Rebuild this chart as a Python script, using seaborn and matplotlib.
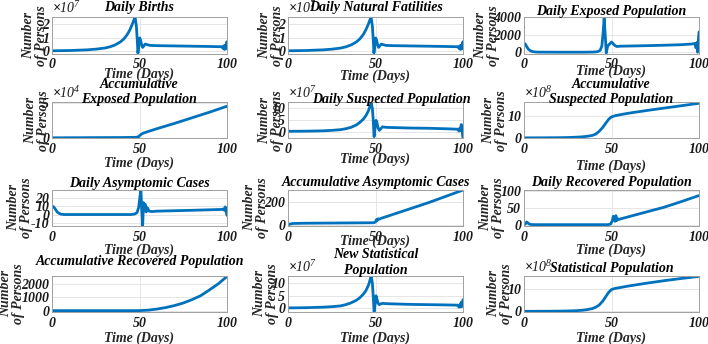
import numpy as np
import pandas as pd
import matplotlib
matplotlib.use("Agg")
import matplotlib.pyplot as plt
import seaborn as sns
from matplotlib.ticker import FuncFormatter, FixedLocator

# ---------------- data ----------------
# Daily Births (x1e7)
t_births = [0, 10, 20, 25, 30, 33, 36, 39, 41, 43, 44.5, 46, 47, 47.5, 48.2, 48.7, 49.1, 49.6, 50.1, 50.6,
            51.2, 51.8, 52.5, 53.3, 54.5, 56, 60, 70, 80, 90, 97, 97.8, 98.2, 98.6, 99, 99.4, 99.7, 100]
v_births = [0.05, 0.07, 0.12, 0.17, 0.25, 0.34, 0.48, 0.7, 0.92, 1.25, 1.6, 2.05, 2.4, 2.5, 1.9, 0.9, -0.12, 0.4,
            1.0, 0.85, 0.5, 0.3, 0.42, 0.55, 0.5, 0.45, 0.43, 0.41, 0.39, 0.37, 0.35, 0.22, 0.42, 0.15, 0.45, 0.2, 0.65, 0.72]
# Daily Natural Fatilities (x1e7)
t_fatal = list(t_births)
v_fatal = [0.05, 0.07, 0.12, 0.17, 0.25, 0.34, 0.48, 0.7, 0.92, 1.25, 1.6, 2.05, 2.4, 2.5, 1.9, 0.9, -0.12, 0.4,
           1.0, 0.85, 0.5, 0.3, 0.42, 0.55, 0.5, 0.45, 0.43, 0.41, 0.39, 0.37, 0.35, 0.22, 0.42, 0.15, 0.45, 0.2, 0.65, 0.72]
# Daily Exposed Population
t_exp = [0, 0.7, 1.5, 2.5, 3.5, 5, 7, 9, 20, 35, 40, 42, 43.5, 44.5, 45.2, 45.8, 46.4, 47, 47.8, 48.8, 50, 51,
         52, 53, 55, 60, 70, 80, 90, 96, 97.5, 98.3, 98.8, 99.2, 99.6, 100]
v_exp = [1000, 950, 650, 350, 180, 60, 15, 5, 0, 0, 20, 60, 200, 700, 2200, 3850, 2000, -100, 700, 900, 1150, 950,
         750, 650, 680, 700, 740, 790, 850, 930, 1000, 500, 1100, 0, 1300, 2300]
# Accumulative Exposed Population (x1e4)
t_acc_exp = [0, 10, 20, 30, 40, 48, 49.5, 50, 50.5, 51, 52, 55, 60, 70, 80, 90, 100]
v_acc_exp = [0.05, 0.06, 0.07, 0.08, 0.09, 0.12, 0.2, 0.35, 0.45, 0.55, 0.7, 0.95, 1.35, 2.1, 2.9, 3.7, 4.55]
# Daily Suspected Population (x1e7)
t_susp = [0, 10, 20, 25, 30, 33, 36, 39, 41, 43, 44.5, 46, 47, 47.5, 48.2, 48.7, 49.2, 49.7, 50.3, 50.9, 51.5,
          52.2, 53, 54, 56, 60, 70, 80, 90, 97, 97.8, 98.2, 98.6, 99, 99.4, 99.7, 100]
v_susp = [0.1, 0.15, 0.3, 0.5, 0.8, 1.2, 1.8, 2.8, 3.9, 5.3, 6.8, 9.0, 11.2, 12.5, 10, 5, -2.2, 1.5, 4.8, 3.5, 1.5,
          0.5, 1.2, 2.0, 1.8, 1.7, 1.5, 1.4, 1.2, 1.0, 0.2, 1.5, 0.5, 3.0, 1.0, -1, -3]
# Accumulative Suspected Population (x1e8)
t_acc_susp = [0, 10, 20, 25, 30, 33, 36, 39, 41, 43, 45, 47, 48.5, 50, 52, 55, 60, 70, 80, 90, 100]
v_acc_susp = [0, 0.02, 0.08, 0.15, 0.3, 0.45, 0.7, 1.1, 1.7, 3.0, 4.8, 7.0, 8.6, 9.6, 10.1, 10.6, 11.3, 12.5, 13.6, 14.7, 15.8]
# Daily Asymptomic Cases
t_asym = [0, 1, 2, 3, 4, 5, 7, 10, 45, 47, 48.5, 49.5, 50.2, 50.8, 51.3, 51.8, 52.3, 52.8, 53.3, 53.8, 54.5, 55.5,
          57, 60, 80, 97, 98, 98.5, 99, 99.5, 100]
v_asym = [10, 9, 6, 3, 1.5, 0.5, 0, 0, 0, 0.5, 2, 8, 20, 30, 5, -13, 14, 10, 12, 3, 8, 4, 3.5, 4, 5, 6, 6.5, 5, 9, 4, -1]
# Accumulative Asymptomic Cases
t_acc_asym = [0, 1, 2, 3, 10, 30, 49, 50, 50.5, 51, 51.5, 52, 53, 60, 70, 80, 90, 100]
v_acc_asym = [0, 5, 10, 12, 14, 16, 18, 25, 45, 38, 52, 48, 55, 90, 140, 190, 245, 300]
# Daily Recovered Population
t_rec = [0, 1, 1.5, 2, 2.5, 3, 4, 6, 48, 49.5, 50.5, 51, 51.5, 52, 52.5, 53, 53.5, 54, 55, 60, 70, 80, 90, 100]
v_rec = [0, 3, 8, 6, 4, 2, 0.5, 0, 0, 2, 12, 25, 20, 10, 27, 12, 18, 15, 17, 24, 38, 52, 69, 87]
# Accumulative Recovered Population
t_acc_rec = [0, 10, 20, 30, 40, 50, 55, 60, 65, 70, 75, 80, 85, 90, 95, 100]
v_acc_rec = [0, 0, 0, 0, 0, 5, 40, 120, 230, 380, 570, 820, 1120, 1550, 2000, 2550]
# New Statistical Population (x1e7)
t_new_stat = [0, 10, 20, 25, 30, 33, 36, 39, 41, 43, 44.5, 46, 47, 47.5, 48.2, 48.7, 49.2, 49.7, 50.3, 50.9, 51.5,
              52.2, 53, 54, 56, 60, 70, 80, 90, 97, 97.8, 98.2, 98.6, 99, 99.4, 99.7, 100]
v_new_stat = [0.2, 0.3, 0.5, 0.7, 1.0, 1.5, 2.2, 3.2, 4.2, 5.6, 7.0, 9.2, 11.5, 12.8, 10, 5, -1.3, 1.5, 5.0, 3.5, 2.0,
              1.5, 1.8, 2.0, 1.9, 1.8, 1.6, 1.5, 1.4, 1.3, 0.5, 1.5, 0.6, 2.5, 1.0, 0.8, 3.5]
# Statistical Population (x1e8)
t_stat = [0, 10, 20, 25, 30, 33, 36, 39, 41, 43, 45, 47, 48.5, 50, 52, 55, 60, 70, 80, 90, 100]
v_stat = [0, 0.02, 0.08, 0.15, 0.3, 0.45, 0.75, 1.2, 1.8, 2.8, 4.5, 6.8, 8.5, 9.6, 10.1, 10.5, 11.2, 12.4, 13.5, 14.5, 15.4]

titles = ["Daily Births", "Daily Natural Fatilities", "Daily Exposed Population",
          "Accumulative\nExposed Population", "Daily Suspected Population", "Accumulative\nSuspected Population",
          "Daily Asymptomic Cases", "Accumulative Asymptomic Cases", "Daily Recovered Population",
          "Accumulative Recovered Population", "New Statistical\nPopulation", "Statistical Population"]
x_label = "Time (Days)"
y_label = "Number\nof Persons"
x_ticks = [0, 50, 100]

# series: (t, values, exponent of the axis multiplier)
series = [
    (t_births, v_births, 7), (t_fatal, v_fatal, 7), (t_exp, v_exp, 0),
    (t_acc_exp, v_acc_exp, 4), (t_susp, v_susp, 7), (t_acc_susp, v_acc_susp, 8),
    (t_asym, v_asym, 0), (t_acc_asym, v_acc_asym, 0), (t_rec, v_rec, 0),
    (t_acc_rec, v_acc_rec, 0), (t_new_stat, v_new_stat, 7), (t_stat, v_stat, 8),
]
y_ticks = [[0, 1, 2], [0, 1, 2], [0, 2000, 4000], [0, 5], [0, 5, 10], [0, 10],
           [-10, 0, 10, 20], [0, 200], [0, 50, 100], [0, 1000, 2000], [0, 5, 10], [0, 10]]

# ---------------- layout (pixels) ----------------
W, H = 708, 344
col_left = [52, 288, 524]
row_top = [17, 102, 189.5, 275.5]
ax_w, ax_h = 175, 36.5
y_lims = [(-0.15, 2.55), (-0.15, 2.55), (-150, 4000), (-0.05, 5.15), (-3.0, 12.7), (-0.3, 16.4),
          (-13.5, 29.5), (-10, 305), (-4, 105), (-100, 2620), (-1.4, 13.0), (-0.3, 15.8)]
title_bottom_px = [3.5, 3.5, -1.5, -4.5, -4.5, -4.5, -0.5, 0.5, 0.5, 7.5, -1.5, 0.5]
title_dx_px = [0, 0, 0, 0, 16, 0, 0, 0, 0, 0, 0, 0]
ylab_base_px = [-7, -7, -27, -5, -7, -19, -22, -22, -22, -30, -12, -14]
xlab_top_px = [15, 17, 12, 19, 15, 22, 19, 10, 19, 21, 21, 21]

sns.set_theme(style="whitegrid")
plt.rcParams['font.family'] = ['Liberation Serif', 'DejaVu Serif']
plt.rcParams.update({
    'font.weight': 'bold', 'font.style': 'italic',
    'mathtext.fontset': 'custom', 'mathtext.rm': 'Liberation Serif:italic',
    'mathtext.it': 'Liberation Serif:italic', 'mathtext.bf': 'Liberation Serif:bold:italic',
})
FS = 10
LINE = '#0072BD'

fig = plt.figure(figsize=(W / 100, H / 100), dpi=100)
fig.patch.set_facecolor('white')

for i in range(12):
    r, c = divmod(i, 3)
    left = col_left[c] / W
    bottom = 1 - (row_top[r] + ax_h) / H
    ax = fig.add_axes([left, bottom, ax_w / W, ax_h / H])
    t, v, expo = series[i]
    mult = 10.0 ** expo
    df = pd.DataFrame({"t": t, "v": np.array(v, dtype=float) * mult})
    sns.lineplot(data=df, x="t", y="v", ax=ax, color=LINE, linewidth=2.0, estimator=None, sort=False)
    ax.set_xlim(0, 100)
    ax.set_ylim(y_lims[i][0] * mult, y_lims[i][1] * mult)
    ax.xaxis.set_major_locator(FixedLocator(x_ticks))
    ax.yaxis.set_major_locator(FixedLocator([y * mult for y in y_ticks[i]]))
    ax.yaxis.set_major_formatter(FuncFormatter(lambda val, pos, m=mult: f"{val / m:g}"))
    if expo:
        ax.text(0.0, 1 + 1.0 / ax_h, r"$\times\mathdefault{10^{%d}}$" % expo, transform=ax.transAxes,
                ha='left', va='bottom', fontsize=FS, fontweight='normal', fontstyle='italic', color='#1a1a1a')
    ax.set_facecolor('white')
    ax.grid(True, color='#e2e2e2', linewidth=0.6)
    for s in ax.spines.values():
        s.set_color('#a0a0a0')
        s.set_linewidth(0.7)
    ax.tick_params(axis='both', direction='in', length=2, width=0.6, color='#a0a0a0',
                   labelsize=FS, pad=3.5, labelcolor='#1a1a1a')
    ax.tick_params(axis='y', pad=2)
    for lab in ax.get_xticklabels() + ax.get_yticklabels():
        lab.set_fontweight('bold')
        lab.set_fontstyle('italic')
    ax.set_xlabel(x_label, fontsize=FS, fontweight='bold', fontstyle='italic')
    ax.xaxis.set_label_coords(0.5, -(xlab_top_px[i] - 1) / ax_h)
    ax.set_ylabel(y_label, fontsize=FS, fontweight='bold', fontstyle='italic', linespacing=1.0)
    ax.yaxis.set_label_coords((ylab_base_px[i] + 3) / ax_w, 0.5)
    ax.text(0.5 + title_dx_px[i] / ax_w, 1 + title_bottom_px[i] / ax_h, titles[i], transform=ax.transAxes,
            ha='center', va='bottom', fontsize=FS, fontweight='bold', fontstyle='italic',
            linespacing=1.25, color='black')

fig.savefig("out.png", dpi=100, facecolor='white')
